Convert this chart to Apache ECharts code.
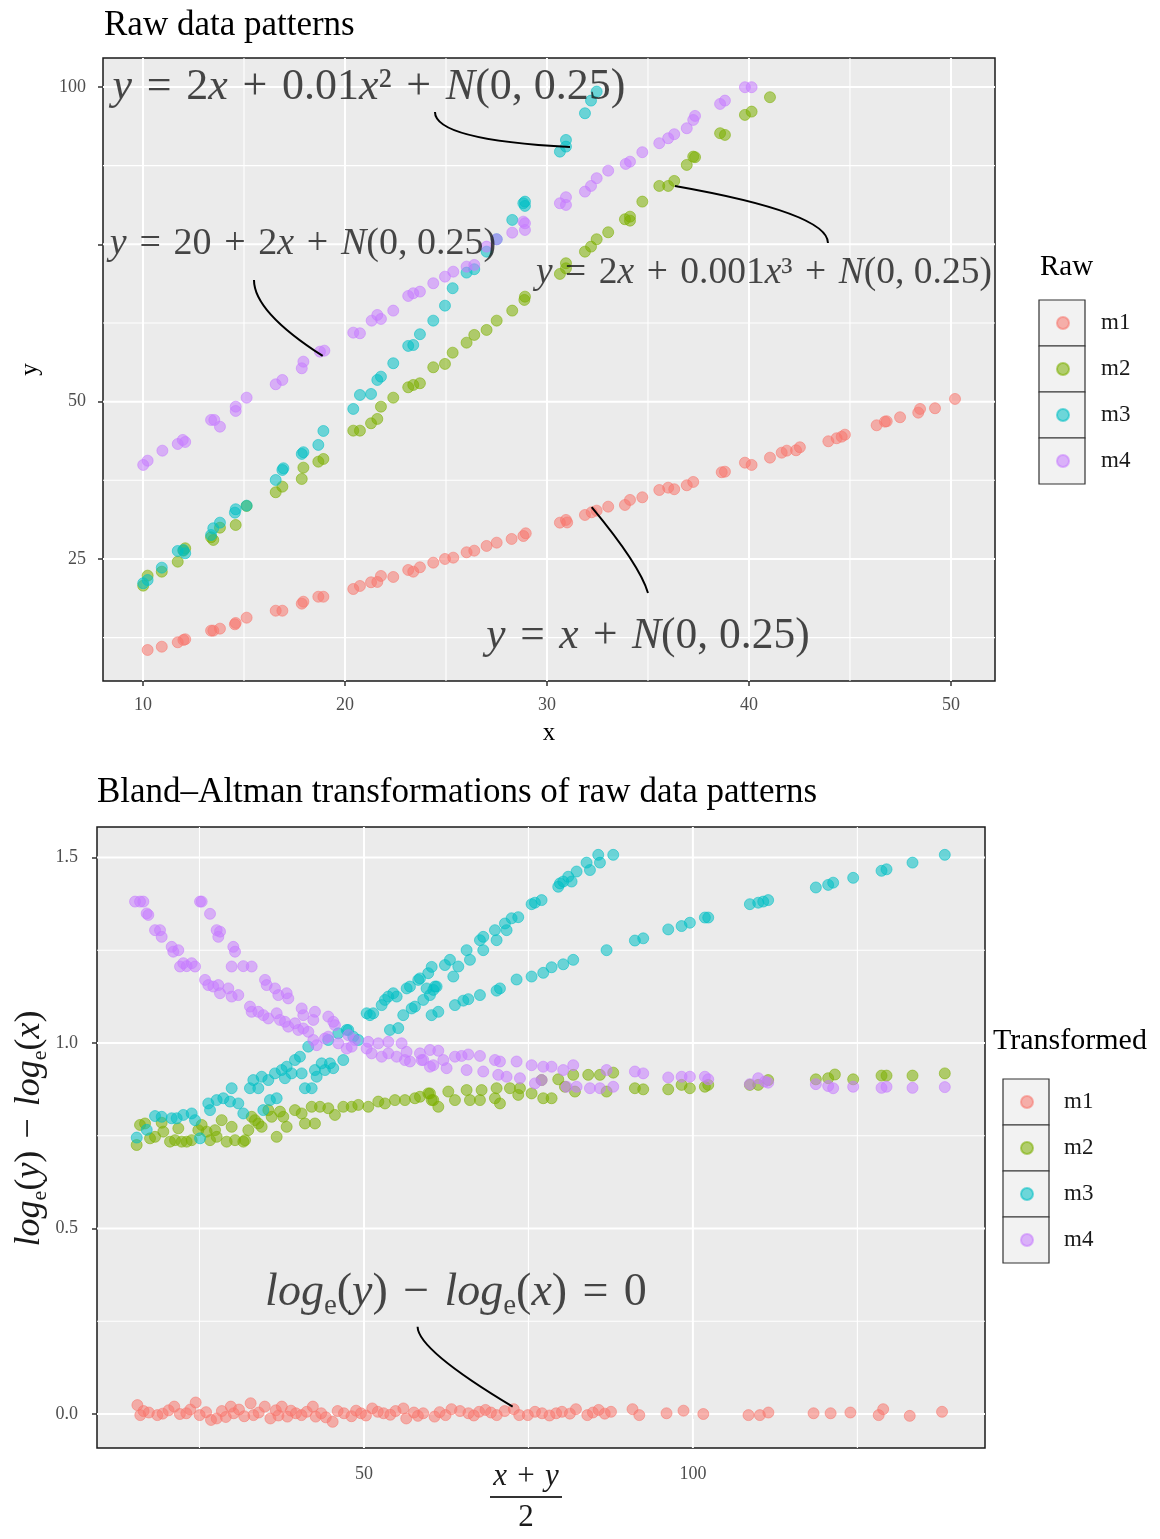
<!DOCTYPE html>
<html>
<head>
<meta charset="utf-8">
<script src="https://cdn.jsdelivr.net/npm/echarts@6/dist/echarts.min.js"></script>
<style>
  html, body { margin: 0; padding: 0; background: #ffffff; }
  #chart { width: 1160px; height: 1539px; }
</style>
</head>
<body>
<div id="chart"></div>
<script>
// ---------- series names & colours ----------
const seriesNames = ['m1', 'm2', 'm3', 'm4'];
const palette = ['#F8766D', '#7CAE00', '#00BFC4', '#C77CFF'];

// ---------- raw data patterns: [x, y] ----------
const m1Raw = [[10.23,10.54],[10.93,11.06],[11.72,11.76],[12.0,12.13],[12.09,12.24],[13.37,13.61],[13.48,13.61],[13.81,13.93],[14.55,14.62],[14.59,14.83],[15.13,15.67],[16.57,16.78],[16.9,16.78],[17.86,17.9],[17.94,18.21],[18.68,19.0],[18.93,19.0],[20.41,20.23],[20.74,20.71],[21.29,21.3],[21.6,21.35],[21.78,22.3],[22.39,22.14],[23.13,23.25],[23.38,22.98],[23.71,23.68],[24.37,24.41],[24.95,25.0],[25.36,25.21],[26.02,26.06],[26.4,26.32],[27.01,27.07],[27.51,27.59],[28.25,28.18],[28.83,28.65],[28.95,29.08],[30.64,30.77],[30.94,31.2],[31.0,30.8],[31.88,31.99],[32.21,32.42],[32.46,32.68],[33.03,33.31],[33.86,33.58],[34.11,34.38],[34.72,34.8],[35.56,35.96],[36.0,36.33],[36.3,36.08],[36.92,36.71],[37.24,37.24],[38.65,38.78],[38.81,38.87],[39.8,40.3],[40.13,39.94],[41.04,41.1],[41.62,41.89],[41.87,42.21],[42.33,42.27],[42.52,42.75],[43.93,43.7],[44.34,44.18],[44.59,44.43],[44.75,44.75],[46.32,46.24],[46.73,46.82],[46.82,46.88],[47.48,47.52],[48.38,48.25],[48.47,48.84],[49.21,48.95],[50.2,50.43]];
const m2Raw = [[10.01,20.76],[10.23,22.35],[10.93,22.98],[11.72,24.57],[12.0,26.32],[12.09,26.7],[13.37,28.45],[13.48,28.02],[13.81,29.97],[14.59,30.4],[15.13,33.42],[16.57,35.6],[16.9,36.49],[17.86,37.71],[17.94,39.51],[18.68,40.46],[18.93,40.89],[20.41,45.39],[20.74,45.39],[21.29,46.56],[21.6,47.25],[21.78,49.2],[22.39,50.63],[23.13,52.28],[23.38,52.65],[23.71,52.92],[24.37,55.46],[24.95,55.99],[25.33,57.78],[26.02,59.37],[26.4,60.6],[27.01,61.39],[27.51,62.87],[28.28,64.46],[28.88,66.16],[28.91,66.68],[30.64,70.29],[30.94,71.99],[30.94,71.19],[31.88,73.83],[32.18,74.63],[32.46,75.8],[33.03,76.91],[33.86,78.98],[34.11,79.39],[34.11,78.76],[34.72,81.78],[35.56,84.27],[36.0,84.27],[36.3,85.07],[36.92,87.61],[37.24,88.93],[37.33,88.84],[38.57,92.65],[38.81,92.38],[39.8,95.56],[40.13,96.08],[41.04,98.37]];
const m3Raw = [[10.01,21.14],[10.23,21.66],[10.93,23.62],[11.72,26.27],[12.0,26.43],[12.09,25.91],[13.37,28.81],[13.48,29.88],[13.81,30.77],[14.55,32.36],[14.59,32.9],[15.13,33.47],[16.57,37.55],[16.9,39.14],[16.95,39.41],[17.86,41.69],[17.94,41.96],[18.68,43.12],[18.93,45.34],[20.41,48.84],[20.74,51.06],[21.29,51.22],[21.6,53.44],[21.78,53.97],[22.39,56.1],[23.13,58.85],[23.38,59.0],[23.71,60.71],[24.37,62.87],[24.95,65.25],[25.33,68.02],[26.02,70.5],[26.4,71.04],[27.01,73.83],[27.51,75.8],[28.28,78.87],[28.83,81.52],[28.91,81.78],[28.91,81.1],[30.64,89.72],[30.94,90.52],[30.94,91.58],[31.88,95.82],[32.18,97.83],[32.46,99.26]];
const m4Raw = [[10.01,39.94],[10.23,40.62],[10.96,42.21],[11.72,43.27],[11.97,43.91],[12.09,43.59],[13.37,47.09],[13.53,47.09],[13.81,46.02],[14.59,48.52],[14.59,49.2],[15.13,50.63],[16.57,52.76],[16.9,53.44],[17.86,55.3],[17.94,56.35],[18.76,57.94],[18.98,58.1],[20.41,60.96],[20.74,60.86],[21.32,62.87],[21.6,63.77],[21.78,63.14],[22.39,64.46],[23.13,66.79],[23.38,67.22],[23.71,67.48],[24.37,68.81],[24.95,69.86],[25.36,70.65],[26.02,71.45],[26.4,71.72],[27.01,74.63],[27.51,75.8],[28.28,76.85],[28.83,78.6],[28.91,77.28],[28.91,78.34],[30.64,81.52],[30.94,81.25],[30.94,82.48],[31.88,83.37],[32.18,84.27],[32.46,85.5],[33.03,86.7],[33.9,87.77],[34.11,88.13],[34.72,89.63],[35.56,91.06],[36.0,91.85],[36.3,92.49],[36.92,93.44],[37.24,94.76],[37.33,95.4],[38.57,97.3],[38.81,97.83],[39.8,99.96],[40.13,99.96]];

// ---------- Bland-Altman transformed: [(x+y)/2, log(y) - log(x)] ----------
const m1BA = [[15.56,0.024],[16.0,-0.003],[16.5,0.008],[17.3,0.004],[18.59,-0.003],[19.4,0.001],[20.3,0.010],[21.16,0.020],[22.02,0.0],[23.0,0.002],[23.6,0.012],[24.42,0.031],[25.03,-0.003],[26.0,0.005],[26.75,-0.016],[27.61,-0.012],[28.4,0.008],[29.0,-0.008],[29.76,0.020],[30.2,0.002],[31.0,0.012],[31.8,-0.006],[32.77,0.029],[33.2,-0.003],[34.0,0.004],[34.92,0.020],[35.78,-0.012],[36.6,0.010],[37.0,-0.004],[37.51,0.020],[38.36,-0.007],[38.9,0.009],[39.65,0.002],[40.5,-0.003],[41.3,0.006],[42.23,0.020],[42.66,-0.007],[43.5,0.002],[44.2,-0.009],[45.24,-0.021],[46.0,0.008],[46.96,0.002],[48.1,-0.006],[48.8,0.009],[49.54,0.002],[50.3,-0.004],[51.26,0.015],[52.1,0.006],[52.98,0.002],[54.0,-0.002],[54.8,0.008],[55.99,0.015],[56.43,-0.012],[57.6,0.004],[58.2,-0.005],[59.0,0.002],[60.73,-0.007],[61.5,0.005],[62.4,-0.003],[63.3,0.013],[64.6,0.008],[65.88,0.002],[66.7,-0.004],[67.5,0.006],[68.47,0.011],[69.3,0.004],[70.18,-0.003],[71.4,0.008],[72.77,0.013],[73.6,-0.003],[74.91,-0.003],[76.0,0.006],[77.07,0.002],[78.2,-0.004],[79.21,0.002],[80.1,0.006],[81.3,0.001],[82.22,0.013],[83.95,-0.003],[84.8,0.004],[85.67,0.011],[86.6,0.001],[87.55,0.006],[90.82,0.013],[91.85,-0.003],[95.99,0.002],[98.57,0.009],[101.58,0.0],[108.45,-0.003],[110.18,-0.003],[111.47,0.004],[118.34,0.002],[120.93,0.002],[123.94,0.004],[128.24,-0.003],[128.92,0.013],[132.96,-0.005],[137.87,0.006]];
const m2BA = [[15.45,0.725],[15.96,0.779],[16.72,0.783],[17.48,0.743],[18.24,0.747],[19.25,0.785],[19.5,0.761],[20.52,0.734],[21.28,0.738],[21.78,0.77],[22.29,0.734],[23.05,0.734],[23.81,0.738],[24.82,0.765],[25.33,0.779],[26.09,0.761],[26.6,0.738],[27.36,0.765],[27.61,0.747],[28.37,0.792],[29.13,0.734],[29.89,0.774],[30.4,0.738],[31.66,0.734],[31.92,0.738],[32.42,0.765],[32.93,0.801],[33.43,0.792],[33.94,0.783],[34.45,0.774],[35.46,0.819],[35.97,0.801],[36.73,0.747],[37.23,0.815],[37.74,0.801],[38.25,0.774],[39.51,0.819],[40.53,0.81],[41.03,0.783],[42.05,0.828],[42.55,0.783],[43.31,0.828],[44.58,0.824],[45.59,0.806],[46.86,0.828],[48.13,0.828],[49.14,0.833],[50.66,0.828],[52.18,0.842],[53.19,0.837],[54.71,0.846],[56.23,0.846],[57.75,0.851],[58.51,0.855],[59.78,0.864],[60.03,0.864],[60.29,0.846],[60.54,0.846],[61.3,0.828],[62.82,0.869],[63.83,0.846],[65.6,0.873],[66.11,0.846],[67.63,0.846],[67.88,0.873],[69.91,0.851],[70.16,0.878],[70.67,0.837],[72.19,0.878],[73.45,0.86],[73.71,0.878],[75.48,0.864],[77.0,0.9],[77.25,0.851],[78.52,0.851],[79.53,0.902],[80.55,0.882],[81.81,0.914],[82.07,0.869],[84.09,0.914],[85.87,0.914],[86.88,0.869],[87.89,0.92],[91.18,0.878],[92.45,0.875],[96.25,0.875],[98.28,0.887],[99.54,0.878],[101.82,0.882],[102.33,0.887],[108.66,0.887],[109.93,0.887],[111.44,0.9],[118.69,0.902],[120.56,0.905],[121.58,0.915],[124.36,0.902],[128.67,0.912],[129.43,0.912],[133.38,0.912],[138.29,0.918]];
const m3BA = [[15.46,0.745],[16.98,0.766],[18.24,0.803],[19.25,0.801],[20.77,0.797],[21.53,0.797],[22.54,0.806],[23.81,0.81],[24.32,0.792],[25.08,0.743],[26.34,0.837],[26.6,0.819],[27.61,0.846],[28.62,0.851],[29.89,0.878],[29.64,0.842],[30.9,0.837],[31.66,0.81],[32.67,0.878],[33.18,0.9],[33.94,0.878],[34.45,0.909],[34.7,0.819],[35.46,0.9],[35.71,0.846],[36.47,0.918],[36.73,0.851],[37.49,0.927],[37.99,0.905],[38.25,0.936],[39.01,0.918],[39.51,0.954],[40.27,0.963],[40.53,0.918],[41.03,0.878],[41.53,0.99],[42.05,0.878],[42.55,0.927],[42.81,0.909],[43.57,0.945],[44.07,0.927],[44.57,1.008],[44.83,0.945],[45.33,0.932],[46.09,1.026],[46.85,0.954],[47.37,1.035],[47.61,1.035],[48.37,1.017],[49.13,1.008],[50.41,1.08],[50.91,1.075],[51.41,1.08],[52.69,1.102],[53.19,1.116],[53.69,1.125],[53.95,1.035],[54.45,1.134],[54.97,1.125],[55.21,1.04],[55.97,1.075],[56.49,1.147],[56.99,1.152],[57.25,1.093],[57.75,1.098],[58.25,1.17],[58.51,1.174],[59.01,1.116],[59.52,1.147],[59.77,1.188],[60.03,1.129],[60.28,1.075],[60.29,1.205],[60.54,1.143],[60.79,1.152],[61.04,1.152],[61.3,1.084],[62.31,1.21],[63.07,1.224],[63.58,1.179],[63.83,1.102],[64.34,1.206],[65.1,1.114],[65.6,1.25],[65.86,1.118],[66.11,1.224],[67.63,1.277],[67.63,1.129],[68.13,1.286],[68.13,1.25],[69.91,1.304],[70.16,1.277],[70.16,1.141],[70.67,1.147],[71.43,1.322],[71.68,1.304],[72.44,1.336],[73.2,1.171],[73.45,1.339],[75.48,1.374],[75.48,1.179],[75.99,1.378],[77.0,1.385],[77.25,1.189],[78.52,1.204],[79.53,1.421],[79.79,1.43],[80.29,1.435],[80.29,1.212],[81.05,1.448],[81.56,1.435],[81.81,1.224],[82.32,1.462],[83.84,1.486],[84.35,1.466],[85.61,1.507],[85.87,1.486],[86.88,1.25],[87.89,1.507],[91.18,1.276],[92.45,1.282],[96.25,1.306],[98.28,1.315],[99.54,1.324],[101.82,1.338],[102.33,1.338],[108.66,1.374],[109.93,1.378],[110.69,1.381],[111.44,1.385],[118.69,1.419],[120.56,1.426],[121.32,1.432],[124.36,1.445],[128.67,1.464],[129.43,1.468],[133.38,1.486],[138.29,1.507]];
const m4BA = [[15.2,1.381],[15.96,1.381],[16.46,1.381],[16.97,1.349],[17.22,1.345],[18.24,1.304],[19.0,1.304],[19.25,1.286],[20.77,1.259],[21.02,1.246],[21.78,1.25],[22.04,1.206],[22.54,1.215],[23.05,1.207],[23.81,1.215],[24.32,1.206],[25.08,1.381],[25.33,1.381],[25.84,1.17],[26.34,1.156],[26.6,1.348],[27.1,1.152],[27.61,1.304],[27.86,1.286],[27.86,1.156],[28.12,1.3],[28.12,1.134],[29.38,1.147],[29.89,1.125],[29.89,1.206],[30.14,1.259],[30.4,1.246],[30.9,1.129],[31.66,1.207],[32.67,1.098],[32.93,1.084],[32.93,1.206],[33.94,1.084],[34.7,1.075],[34.96,1.17],[35.21,1.156],[35.46,1.066],[36.47,1.147],[36.73,1.08],[36.98,1.129],[37.23,1.062],[37.99,1.057],[38.25,1.134],[38.5,1.044],[38.5,1.12],[39.51,1.053],[40.02,1.035],[40.53,1.093],[40.78,1.039],[40.78,1.075],[41.54,1.03],[42.3,1.008],[42.3,1.062],[42.55,1.084],[42.81,0.994],[44.07,1.012],[44.58,1.017],[44.58,1.071],[45.34,1.057],[45.59,1.048],[46.1,0.999],[47.37,0.985],[47.62,1.021],[48.13,0.99],[48.63,1.008],[50.41,0.985],[50.66,1.003],[51.17,0.972],[52.18,0.999],[52.69,0.963],[53.7,0.972],[53.7,1.003],[54.97,0.963],[55.72,0.999],[56.23,0.954],[56.48,0.976],[56.99,0.95],[58.51,0.972],[58.76,0.954],[59.02,0.954],[60.03,0.936],[60.03,0.981],[60.54,0.94],[61.3,0.979],[62.06,0.954],[62.56,0.932],[63.83,0.963],[64.84,0.965],[65.6,0.927],[65.86,0.969],[67.63,0.965],[68.13,0.923],[69.91,0.954],[70.41,0.914],[70.67,0.95],[71.68,0.909],[73.2,0.95],[73.71,0.905],[75.48,0.94],[75.99,0.891],[77.0,0.9],[77.25,0.936],[78.52,0.936],[80.29,0.927],[80.8,0.882],[81.81,0.94],[82.32,0.882],[84.35,0.878],[85.87,0.878],[86.88,0.927],[87.89,0.882],[91.18,0.923],[92.45,0.918],[96.25,0.907],[98.28,0.909],[99.54,0.909],[101.82,0.909],[102.33,0.902],[108.66,0.889],[109.93,0.905],[110.94,0.896],[111.44,0.893],[118.69,0.889],[120.56,0.884],[121.32,0.878],[124.36,0.882],[128.67,0.879],[129.43,0.882],[133.38,0.879],[138.29,0.881]];

// ---------- axis breaks ----------
const rawXMajor = [10, 20, 30, 40, 50];
const rawXMinor = [15, 25, 35, 45];
const rawYMajor = [25, 50, 75, 100];
const rawYMinor = [12.5, 37.5, 62.5, 87.5];
const rawYLabels = [25, 50, 100];
const baXMajor = [50, 100];
const baXMinor = [25, 75, 125];
const baYMajor = [0, 0.5, 1, 1.5];
const baYMinor = [0.25, 0.75, 1.25];

// ---------- annotations (data coordinates) ----------
// text notes: [x, y, font size, rich text]
const SP = '\u2004';
const rawNotes = [
  [21.19, 99.85, 44, '{i|y}{r|' + SP + '=' + SP + '2}{i|x}{r|' + SP + '+' + SP + '0.01}{i|x}{r|²' + SP + '+' + SP + '}{i|N}{r|(0, 0.25)}'],
  [17.92, 75.06, 38, '{i|y}{r|' + SP + '=' + SP + '20' + SP + '+' + SP + '2}{i|x}{r|' + SP + '+' + SP + '}{i|N}{r|(0, 0.25)}'],
  [40.74, 70.45, 37.5, '{i|y}{r|' + SP + '=' + SP + '2}{i|x}{r|' + SP + '+' + SP + '0.001}{i|x}{r|³' + SP + '+' + SP + '}{i|N}{r|(0, 0.25)}'],
  [35.0, 12.6, 43.5, '{i|y}{r|' + SP + '=' + SP + '}{i|x}{r|' + SP + '+' + SP + '}{i|N}{r|(0, 0.25)}']
];
const baNotes = [
  [63.98, 0.326, 46, '{i|log}{s|e}{r|(}{i|y}{r|)' + SP + '\u2212' + SP + '}{i|log}{s|e}{r|(}{i|x}{r|)' + SP + '=' + SP + '0}']
];
// connector curves: [x0, y0, ctrlX, ctrlY, x1, y1]
const rawCurves = [
  [24.455, 96.03, 24.455, 91.58, 31.139, 90.47],
  [15.495, 69.33, 15.495, 64.25, 18.896, 57.26],
  [43.911, 75.21, 43.911, 79.98, 36.337, 84.27],
  [35.0, 19.6, 34.579, 24.09, 32.213, 33.22]
];
const baCurves = [
  [58.15, 0.235, 58.21, 0.1725, 72.6, 0.0197]
];

// ---------- styling helpers ----------
const SERIF = "'Liberation Serif', 'DejaVu Serif', serif";
const INK = '#1a1a1a';

function mathRich(size) {
  return {
    i: { fontFamily: SERIF, fontStyle: 'italic', fontSize: size, color: INK, lineHeight: Math.round(size * 1.2) },
    r: { fontFamily: SERIF, fontSize: size, color: INK, lineHeight: Math.round(size * 1.2) },
    s: { fontFamily: SERIF, fontSize: Math.round(size * 0.62), color: INK, lineHeight: Math.round(size * 0.62), verticalAlign: 'bottom' }
  };
}

function gridLines(gi, dir, values, majors) {
  return {
    type: 'custom', xAxisIndex: gi, yAxisIndex: gi, silent: true, z: 1, clip: false,
    data: values.map(v => [v, majors.includes(v) ? 1 : 0]),
    encode: dir === 'v' ? { x: 0, y: 1 } : { x: 1, y: 0 },
    renderItem(params, api) {
      const cs = params.coordSys;
      const v = api.value(0);
      const w = api.value(1) ? 2 : 1.1;
      if (dir === 'v') {
        const x = api.coord([v, 0])[0];
        return { type: 'line', shape: { x1: x, y1: cs.y, x2: x, y2: cs.y + cs.height }, style: { stroke: '#ffffff', lineWidth: w } };
      }
      const y = api.coord([0, v])[1];
      return { type: 'line', shape: { x1: cs.x, y1: y, x2: cs.x + cs.width, y2: y }, style: { stroke: '#ffffff', lineWidth: w } };
    }
  };
}

function points(name, data, gi, ci) {
  return {
    type: 'scatter', name, data, xAxisIndex: gi, yAxisIndex: gi, z: 3,
    symbol: 'circle', symbolSize: 11,
    itemStyle: { color: palette[ci], opacity: 0.55, borderColor: palette[ci], borderWidth: 1 },
    emphasis: { disabled: true }
  };
}

// one label series per note so each note keeps its own font size
function notes(gi, list) {
  return list.map(n => ({
    type: 'scatter', xAxisIndex: gi, yAxisIndex: gi, z: 6, silent: true, symbolSize: 0,
    data: [{ value: [n[0], n[1]], txt: n[3] }],
    label: { show: true, position: 'inside', formatter: p => p.data.txt, rich: mathRich(n[2]) },
    emphasis: { disabled: true }
  }));
}

function curves(gi, list) {
  return {
    type: 'custom', xAxisIndex: gi, yAxisIndex: gi, z: 5, silent: true, clip: false,
    data: list, encode: { x: [0, 2, 4], y: [1, 3, 5] },
    renderItem(params, api) {
      const p0 = api.coord([api.value(0), api.value(1)]);
      const c = api.coord([api.value(2), api.value(3)]);
      const p1 = api.coord([api.value(4), api.value(5)]);
      return {
        type: 'bezierCurve',
        shape: { x1: p0[0], y1: p0[1], cpx1: c[0], cpy1: c[1], x2: p1[0], y2: p1[1] },
        style: { stroke: '#000000', lineWidth: 2, fill: null }
      };
    }
  };
}

const tickStyle = { length: 5, lineStyle: { color: '#333333', width: 1.5 } };
const tickLabel = { color: '#4d4d4d', fontSize: 18, fontFamily: SERIF };

function valueAxis(gi, min, max, ticks, labels, extra) {
  return Object.assign({
    type: 'value', gridIndex: gi, min, max,
    axisLine: { show: false },
    splitLine: { show: false },
    nameMoveOverlap: false,
    axisTick: Object.assign({ show: true, customValues: ticks }, tickStyle),
    axisLabel: Object.assign({ customValues: labels }, tickLabel)
  }, extra);
}

const panel = { show: true, backgroundColor: '#ebebeb', borderColor: '#1a1a1a', borderWidth: 1.5, containLabel: false, outerBoundsMode: 'none' };

const option = {
  backgroundColor: '#ffffff',
  animation: false,
  title: [
    { text: 'Raw data patterns', left: 104, top: 8, padding: 0,
      textStyle: { fontFamily: SERIF, fontSize: 35, fontWeight: 'normal', color: '#000' } },
    { text: 'Bland\u2013Altman transformations of raw data patterns', left: 97, top: 775, padding: 0,
      textStyle: { fontFamily: SERIF, fontSize: 35, fontWeight: 'normal', color: '#000' } }
  ],
  grid: [
    Object.assign({ left: 103, top: 58, width: 892, height: 623 }, panel),
    Object.assign({ left: 97, top: 827, width: 888, height: 621 }, panel)
  ],
  xAxis: [
    valueAxis(0, 8.02, 52.18, rawXMajor, rawXMajor, {
      name: 'x', nameLocation: 'middle', nameGap: 40,
      nameTextStyle: { fontFamily: SERIF, fontSize: 25, color: '#000' },
      axisLabel: Object.assign({ customValues: rawXMajor, margin: 15 }, tickLabel)
    }),
    valueAxis(1, 9.42, 144.4, baXMajor, baXMajor, {
      name: '{ni|x}{nr|' + SP + '+' + SP + '}{ni|y}\n{bar|}\n{d|2}', nameLocation: 'middle', nameGap: 13,
      nameTextStyle: {
        padding: [0, 30, 0, 0],
        rich: {
          ni: { fontFamily: SERIF, fontStyle: 'italic', fontSize: 31, color: INK, lineHeight: 32 },
          nr: { fontFamily: SERIF, fontSize: 31, color: INK, lineHeight: 32 },
          bar: { width: 72, height: 2, lineHeight: 8, backgroundColor: '#333333' },
          d: { fontFamily: SERIF, fontSize: 31, color: INK, lineHeight: 34 }
        }
      },
      axisLabel: Object.assign({ customValues: baXMajor, margin: 17 }, tickLabel)
    })
  ],
  yAxis: [
    valueAxis(0, 5.61, 104.6, rawYMajor, rawYLabels, {
      name: 'y', nameLocation: 'middle', nameGap: 60, nameRotate: 90,
      nameTextStyle: { fontFamily: SERIF, fontSize: 25, color: '#000' },
      axisLabel: Object.assign({ customValues: rawYLabels, margin: 17 }, tickLabel)
    }),
    valueAxis(1, -0.0916, 1.582, baYMajor, baYMajor, {
      name: '{i|log}{s|e}{r|(}{i|y}{r|)' + SP + '\u2212' + SP + '}{i|log}{s|e}{r|(}{i|x}{r|)}',
      nameLocation: 'middle', nameGap: 46, nameRotate: 90,
      nameTextStyle: { rich: mathRich(36), padding: [0, 0, 0, 18] },
      axisLabel: Object.assign({ customValues: baYMajor, margin: 19, formatter: v => v.toFixed(1) }, tickLabel)
    })
  ],
  legend: [
    {
      data: seriesNames, orient: 'vertical', left: 1056, top: 300, padding: 0,
      itemWidth: 12, itemHeight: 12, itemGap: 0, icon: 'circle', selectedMode: false,
      itemStyle: { opacity: 0.55 },
      textStyle: { fontFamily: SERIF, fontSize: 23, color: INK, lineHeight: 46, padding: [0, 0, 0, 27] }
    },
    {
      data: seriesNames, orient: 'vertical', left: 1020, top: 1079, padding: 0,
      itemWidth: 12, itemHeight: 12, itemGap: 0, icon: 'circle', selectedMode: false,
      itemStyle: { opacity: 0.55 },
      textStyle: { fontFamily: SERIF, fontSize: 23, color: INK, lineHeight: 46, padding: [0, 0, 0, 26] }
    }
  ],
  graphic: [
    { type: 'text', left: 1040, top: 253, style: { text: 'Raw', font: '29px ' + SERIF, fill: '#000' } },
    { type: 'text', left: 993, top: 1026, style: { text: 'Transformed', font: '30px ' + SERIF, fill: '#000' } }
  ].concat(
    [0, 1, 2, 3].map(i => ({ type: 'rect', z: -1, shape: { x: 1039, y: 300 + 46 * i, width: 46, height: 46 }, style: { fill: '#f2f2f2', stroke: '#333333', lineWidth: 1.2 } })),
    [0, 1, 2, 3].map(i => ({ type: 'rect', z: -1, shape: { x: 1003, y: 1079 + 46 * i, width: 46, height: 46 }, style: { fill: '#f2f2f2', stroke: '#333333', lineWidth: 1.2 } }))
  ),
  series: [
    gridLines(0, 'v', rawXMinor.concat(rawXMajor), rawXMajor),
    gridLines(0, 'h', rawYMinor.concat(rawYMajor), rawYMajor),
    gridLines(1, 'v', baXMinor.concat(baXMajor), baXMajor),
    gridLines(1, 'h', baYMinor.concat(baYMajor), baYMajor),
    points('m1', m1Raw, 0, 0),
    points('m2', m2Raw, 0, 1),
    points('m3', m3Raw, 0, 2),
    points('m4', m4Raw, 0, 3),
    points('m1', m1BA, 1, 0),
    points('m2', m2BA, 1, 1),
    points('m3', m3BA, 1, 2),
    points('m4', m4BA, 1, 3),
    curves(0, rawCurves),
    curves(1, baCurves)
  ].concat(notes(0, rawNotes), notes(1, baNotes))
};

const chart = echarts.init(document.getElementById('chart'), null, { renderer: 'canvas' });
chart.setOption(option);
</script>
</body>
</html>
